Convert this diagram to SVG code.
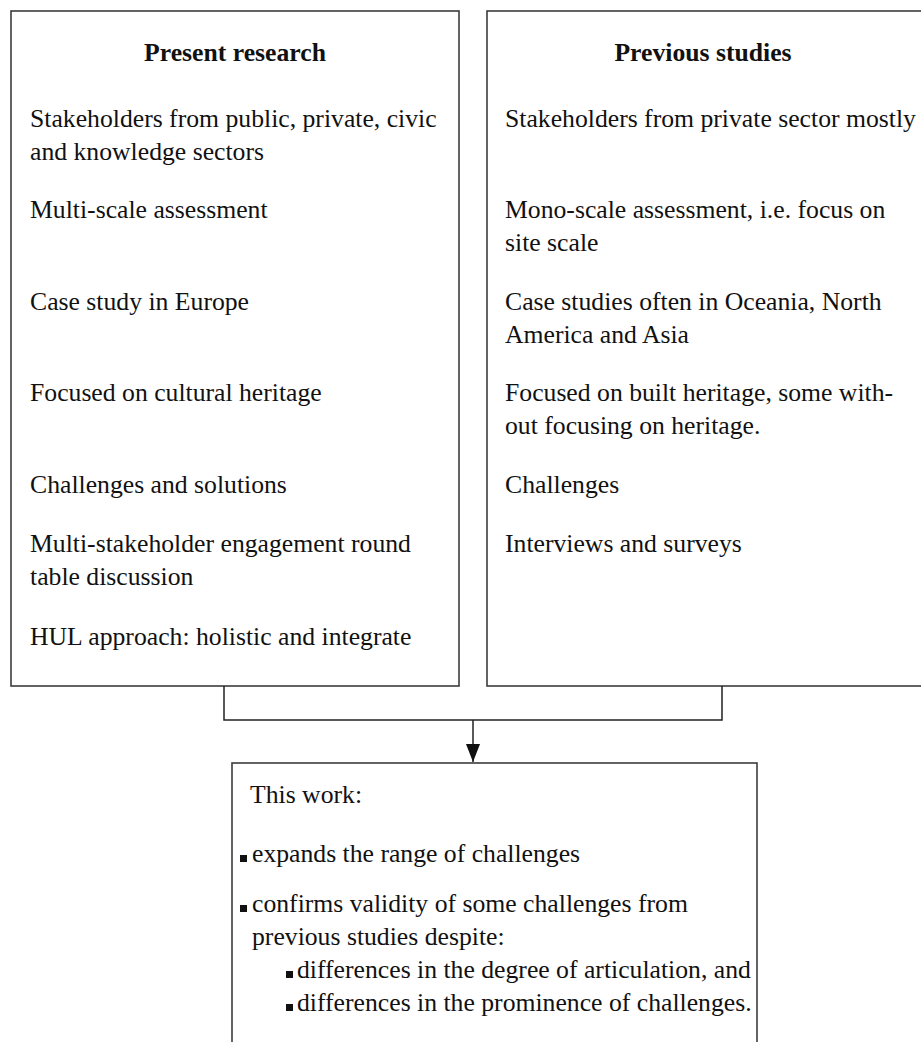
<svg xmlns="http://www.w3.org/2000/svg" width="921" height="1042" viewBox="0 0 921 1042">
<style>
.box{fill:#fff;stroke:#3c3c3c;stroke-width:1.6}
text{font-family:"Liberation Serif","Times New Roman",serif;font-size:25.7px;fill:#111}
.t{font-weight:bold;text-anchor:middle}
.c{fill:none;stroke:#222;stroke-width:1.5}
.b{fill:#111}
</style>
<defs>
<marker id="ah" viewBox="0 0 18 14" refX="18" refY="7" markerWidth="18" markerHeight="14" markerUnits="userSpaceOnUse" orient="auto">
<path d="M0,0 L18,7 L0,14 Z" fill="#111"/>
</marker>
</defs>
<rect width="921" height="1042" fill="#fff"/>
<g id="present">
<rect class="box" x="11" y="11" width="448" height="675"/>
<text class="t" x="235" y="61">Present research</text>
<text x="30" y="127">Stakeholders from public, private, civic</text>
<text x="30" y="160">and knowledge sectors</text>
<text x="30" y="218">Multi-scale assessment</text>
<text x="30" y="310">Case study in Europe</text>
<text x="30" y="401">Focused on cultural heritage</text>
<text x="30" y="493">Challenges and solutions</text>
<text x="30" y="552">Multi-stakeholder engagement round</text>
<text x="30" y="585">table discussion</text>
<text x="30" y="645">HUL approach: holistic and integrate</text>
</g>
<g id="previous">
<rect class="box" x="487" y="11" width="440" height="675"/>
<text class="t" x="703" y="61">Previous studies</text>
<text x="505" y="127">Stakeholders from private sector mostly</text>
<text x="505" y="218">Mono-scale assessment, i.e. focus on</text>
<text x="505" y="251">site scale</text>
<text x="505" y="310">Case studies often in Oceania, North</text>
<text x="505" y="343">America and Asia</text>
<text x="505" y="401">Focused on built heritage, some with-</text>
<text x="505" y="434">out focusing on heritage.</text>
<text x="505" y="493">Challenges</text>
<text x="505" y="552">Interviews and surveys</text>
</g>
<g id="connectors">
<path class="c" d="M224,686 V720 H722 V686"/>
<path class="c" d="M473,720 V762" marker-end="url(#ah)"/>
</g>
<g id="thiswork">
<rect class="box" x="232" y="763" width="525" height="300"/>
<text x="250" y="803">This work:</text>
<rect class="b" x="240" y="855" width="7" height="7"/>
<text x="252" y="862">expands the range of challenges</text>
<rect class="b" x="240" y="905" width="7" height="7"/>
<text x="252" y="912">confirms validity of some challenges from</text>
<text x="252" y="945">previous studies despite:</text>
<rect class="b" x="286" y="971" width="7" height="7"/>
<text x="297" y="978">differences in the degree of articulation, and</text>
<rect class="b" x="286" y="1004" width="7" height="7"/>
<text x="297" y="1011">differences in the prominence of challenges.</text>
</g>
</svg>
